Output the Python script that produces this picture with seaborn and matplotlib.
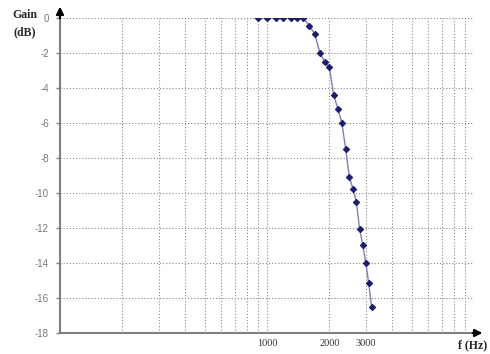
import numpy as np
import pandas as pd
import matplotlib
matplotlib.use("Agg")
import matplotlib.pyplot as plt
import seaborn as sns
from matplotlib.ticker import FixedLocator, NullFormatter

freq_hz = [900, 1000, 1100, 1200, 1300, 1400, 1500, 1600, 1700, 1800, 1900,
           2000, 2100, 2200, 2300, 2400, 2500, 2600, 2700, 2800, 2900, 3000,
           3100, 3200]
gain_db = [0, 0, 0, 0, 0, 0, 0, -0.45, -0.9, -2.0, -2.5, -2.8, -4.4, -5.2,
           -6.0, -7.5, -9.1, -9.75, -10.5, -12.05, -12.95, -14.0, -15.15, -16.5]
y_ticks = list(range(0, -19, -2))
x_labels = [1000, 2000, 3000]

df = pd.DataFrame({"f": freq_hz, "gain": gain_db})

sns.set_style("white")
fig = plt.figure(figsize=(4.9, 3.54), dpi=100)
ax = fig.add_axes([0.1224, 0.0593, 0.845, 0.8898])

sns.lineplot(data=df, x="f", y="gain", ax=ax, color="#8080b0", linewidth=1.0,
             marker="D", markersize=3.2, markerfacecolor="#1c1c70",
             markeredgecolor="#1c1c70", zorder=3)

ax.set_xscale("log")
ax.set_xlim(100, 10000)
ax.set_ylim(-18, 0)

# grid on every minor decade step
grid_x = [m * 10 ** e for e in (2, 3) for m in range(1, 10)] + [10000]
ax.xaxis.set_major_locator(FixedLocator(x_labels))
ax.xaxis.set_minor_locator(FixedLocator(grid_x))
ax.xaxis.set_minor_formatter(NullFormatter())
ax.set_xticklabels([str(v) for v in x_labels], family="Liberation Serif",
                   fontsize=7.5, color="#333333")
ax.set_yticks(y_ticks)
ax.set_yticklabels([str(v) for v in y_ticks], family="Liberation Sans",
                   fontsize=7, color="#777777")
ax.tick_params(axis="x", which="both", length=0, pad=4)
ax.tick_params(axis="y", length=3, width=1, color="#808080", pad=5, left=True)

ax.grid(True, which="both", axis="x", linestyle=(0, (1, 1.8)),
        color="#888888", linewidth=0.8)
ax.grid(True, which="major", axis="y", linestyle=(0, (1, 1.8)),
        color="#888888", linewidth=0.8)
ax.set_xlabel("")
ax.set_ylabel("")

for s in ("top", "right"):
    ax.spines[s].set_visible(False)
for s in ("left", "bottom"):
    ax.spines[s].set_color("#808080")
    ax.spines[s].set_linewidth(1.5)

# arrow heads on both axes
ax.annotate("", xy=(1.027, 0), xytext=(0.99, 0), xycoords="axes fraction",
            arrowprops=dict(arrowstyle="-|>", color="black", lw=1.5,
                            mutation_scale=11), annotation_clip=False)
ax.annotate("", xy=(0, 1.045), xytext=(0, 0.99), xycoords="axes fraction",
            arrowprops=dict(arrowstyle="-|>", color="black", lw=1.5,
                            mutation_scale=11), annotation_clip=False)

fig.text(0.05, 0.975, "Gain", family="Liberation Serif", fontweight="bold",
         fontsize=8.5, ha="center", va="top")
fig.text(0.05, 0.925, "(dB)", family="Liberation Serif", fontweight="bold",
         fontsize=8.5, ha="center", va="top")
fig.text(0.965, 0.008, "f (Hz)", family="Liberation Serif", fontweight="bold",
         fontsize=8.5, ha="center", va="bottom")

fig.savefig("out.png", dpi=100)
